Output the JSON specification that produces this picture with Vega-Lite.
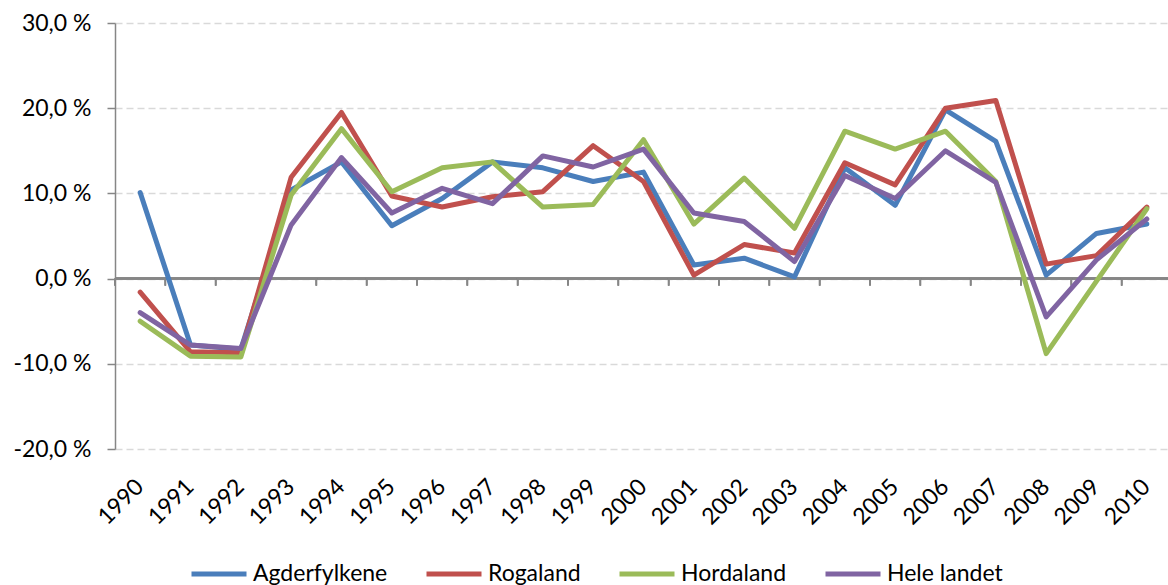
{
  "$schema": "https://vega.github.io/schema/vega-lite/v6.json",
  "width": 1053,
  "height": 426,
  "autosize": {"type": "none"},
  "padding": {"left": 115, "top": 23, "right": 0, "bottom": 136},
  "background": "white",
  "config": {
    "view": {"stroke": null},
    "font": "Lato",
    "axis": {"labelColor": "#000000", "labelFont": "Lato", "labelFontSize": 23, "title": null}
  },
  "data": {
    "values": [
      {"year": "1990", "series": "Agderfylkene", "value": 10.1},
      {"year": "1991", "series": "Agderfylkene", "value": -7.8},
      {"year": "1992", "series": "Agderfylkene", "value": -8.3},
      {"year": "1993", "series": "Agderfylkene", "value": 10.4},
      {"year": "1994", "series": "Agderfylkene", "value": 13.7},
      {"year": "1995", "series": "Agderfylkene", "value": 6.2},
      {"year": "1996", "series": "Agderfylkene", "value": 9.4},
      {"year": "1997", "series": "Agderfylkene", "value": 13.7},
      {"year": "1998", "series": "Agderfylkene", "value": 13.0},
      {"year": "1999", "series": "Agderfylkene", "value": 11.4},
      {"year": "2000", "series": "Agderfylkene", "value": 12.5},
      {"year": "2001", "series": "Agderfylkene", "value": 1.6},
      {"year": "2002", "series": "Agderfylkene", "value": 2.4},
      {"year": "2003", "series": "Agderfylkene", "value": 0.2},
      {"year": "2004", "series": "Agderfylkene", "value": 13.0},
      {"year": "2005", "series": "Agderfylkene", "value": 8.6},
      {"year": "2006", "series": "Agderfylkene", "value": 19.8},
      {"year": "2007", "series": "Agderfylkene", "value": 16.1},
      {"year": "2008", "series": "Agderfylkene", "value": 0.4},
      {"year": "2009", "series": "Agderfylkene", "value": 5.3},
      {"year": "2010", "series": "Agderfylkene", "value": 6.4},
      {"year": "1990", "series": "Rogaland", "value": -1.6},
      {"year": "1991", "series": "Rogaland", "value": -8.6},
      {"year": "1992", "series": "Rogaland", "value": -8.7},
      {"year": "1993", "series": "Rogaland", "value": 11.9},
      {"year": "1994", "series": "Rogaland", "value": 19.5},
      {"year": "1995", "series": "Rogaland", "value": 9.7},
      {"year": "1996", "series": "Rogaland", "value": 8.4},
      {"year": "1997", "series": "Rogaland", "value": 9.6},
      {"year": "1998", "series": "Rogaland", "value": 10.2},
      {"year": "1999", "series": "Rogaland", "value": 15.6},
      {"year": "2000", "series": "Rogaland", "value": 11.4},
      {"year": "2001", "series": "Rogaland", "value": 0.4},
      {"year": "2002", "series": "Rogaland", "value": 4.0},
      {"year": "2003", "series": "Rogaland", "value": 3.0},
      {"year": "2004", "series": "Rogaland", "value": 13.6},
      {"year": "2005", "series": "Rogaland", "value": 11.0},
      {"year": "2006", "series": "Rogaland", "value": 20.0},
      {"year": "2007", "series": "Rogaland", "value": 20.9},
      {"year": "2008", "series": "Rogaland", "value": 1.7},
      {"year": "2009", "series": "Rogaland", "value": 2.7},
      {"year": "2010", "series": "Rogaland", "value": 8.4},
      {"year": "1990", "series": "Hordaland", "value": -5.0},
      {"year": "1991", "series": "Hordaland", "value": -9.1},
      {"year": "1992", "series": "Hordaland", "value": -9.2},
      {"year": "1993", "series": "Hordaland", "value": 9.8},
      {"year": "1994", "series": "Hordaland", "value": 17.6},
      {"year": "1995", "series": "Hordaland", "value": 10.2},
      {"year": "1996", "series": "Hordaland", "value": 13.0},
      {"year": "1997", "series": "Hordaland", "value": 13.7},
      {"year": "1998", "series": "Hordaland", "value": 8.4},
      {"year": "1999", "series": "Hordaland", "value": 8.7},
      {"year": "2000", "series": "Hordaland", "value": 16.3},
      {"year": "2001", "series": "Hordaland", "value": 6.4},
      {"year": "2002", "series": "Hordaland", "value": 11.8},
      {"year": "2003", "series": "Hordaland", "value": 5.9},
      {"year": "2004", "series": "Hordaland", "value": 17.3},
      {"year": "2005", "series": "Hordaland", "value": 15.2},
      {"year": "2006", "series": "Hordaland", "value": 17.3},
      {"year": "2007", "series": "Hordaland", "value": 11.4},
      {"year": "2008", "series": "Hordaland", "value": -8.8},
      {"year": "2009", "series": "Hordaland", "value": -0.3},
      {"year": "2010", "series": "Hordaland", "value": 8.2},
      {"year": "1990", "series": "Hele landet", "value": -4.0},
      {"year": "1991", "series": "Hele landet", "value": -7.8},
      {"year": "1992", "series": "Hele landet", "value": -8.2},
      {"year": "1993", "series": "Hele landet", "value": 6.3},
      {"year": "1994", "series": "Hele landet", "value": 14.2},
      {"year": "1995", "series": "Hele landet", "value": 7.7},
      {"year": "1996", "series": "Hele landet", "value": 10.6},
      {"year": "1997", "series": "Hele landet", "value": 8.8},
      {"year": "1998", "series": "Hele landet", "value": 14.4},
      {"year": "1999", "series": "Hele landet", "value": 13.1},
      {"year": "2000", "series": "Hele landet", "value": 15.2},
      {"year": "2001", "series": "Hele landet", "value": 7.7},
      {"year": "2002", "series": "Hele landet", "value": 6.7},
      {"year": "2003", "series": "Hele landet", "value": 2.0},
      {"year": "2004", "series": "Hele landet", "value": 12.1},
      {"year": "2005", "series": "Hele landet", "value": 9.4},
      {"year": "2006", "series": "Hele landet", "value": 15.0},
      {"year": "2007", "series": "Hele landet", "value": 11.3},
      {"year": "2008", "series": "Hele landet", "value": -4.5},
      {"year": "2009", "series": "Hele landet", "value": 2.2},
      {"year": "2010", "series": "Hele landet", "value": 7.0}
    ]
  },
  "layer": [
    {
      "mark": {"type": "rule", "color": "#868686", "strokeWidth": 1.5},
      "encoding": {
        "y": {"datum": 0, "type": "quantitative"}
      }
    },
    {
      "mark": {"type": "rule", "color": "#868686", "strokeWidth": 1.5},
      "encoding": {
        "x": {"field": "year", "type": "ordinal", "bandPosition": 0},
        "y": {"datum": 0, "type": "quantitative"},
        "y2": {"datum": -0.82}
      }
    },
    {
      "mark": {"type": "line", "strokeWidth": 5, "strokeCap": "round", "strokeJoin": "round"},
      "encoding": {
        "x": {
          "field": "year",
          "type": "ordinal",
          "bandPosition": 0.5,
          "scale": {"type": "band", "paddingInner": 0, "paddingOuter": 0, "range": [0, 1057]},
          "axis": {
            "orient": "bottom",
            "grid": false,
            "domain": false,
            "ticks": false,
            "labelAngle": -45,
            "labelAlign": "right",
            "labelBaseline": "top",
            "labelOffset": -8,
            "labelPadding": 26,
            "labelFlush": false,
            "labelOverlap": false
          }
        },
        "y": {
          "field": "value",
          "type": "quantitative",
          "scale": {"domain": [-20, 30], "nice": false, "zero": false},
          "axis": {
            "values": [-20, -10, 0, 10, 20, 30],
            "labelExpr": "(datum.value < 0 ? '-' : '') + replace(format(abs(datum.value), '.1f'), '.', ',') + ' %'",
            "domain": true,
            "domainColor": "#868686",
            "domainWidth": 1.5,
            "ticks": true,
            "tickSize": 8,
            "tickColor": "#868686",
            "tickWidth": 1.5,
            "labelPadding": 16,
            "grid": true,
            "gridColor": "#d9d9d9",
            "gridDash": [7, 4],
            "gridWidth": 1.3
          }
        },
        "color": {
          "field": "series",
          "type": "nominal",
          "sort": ["Agderfylkene", "Rogaland", "Hordaland", "Hele landet"],
          "scale": {
            "domain": ["Agderfylkene", "Rogaland", "Hordaland", "Hele landet"],
            "range": ["#4a7ebb", "#c0504d", "#9bbb59", "#8064a2"]
          },
          "legend": {
            "orient": "none",
            "legendX": 74,
            "legendY": 521,
            "direction": "horizontal",
            "columns": 4,
            "title": null,
            "symbolType": "stroke",
            "symbolSize": 3025,
            "symbolStrokeWidth": 5,
            "labelFont": "Lato",
            "labelFontSize": 23,
            "labelColor": "#000000",
            "labelOffset": 4,
            "columnPadding": 28,
            "labelLimit": 300
          }
        }
      }
    }
  ]
}
